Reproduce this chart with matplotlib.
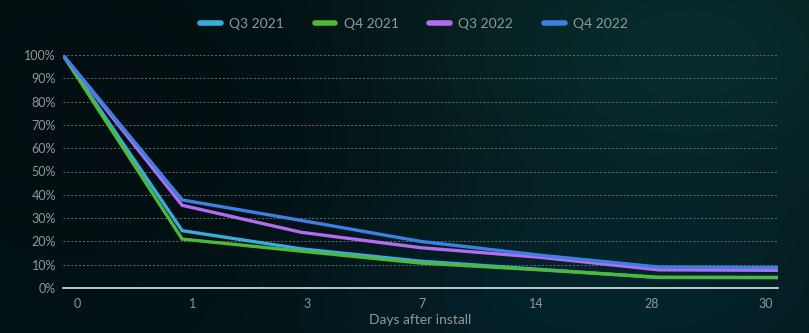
import numpy as np
import matplotlib
matplotlib.use("Agg")
import matplotlib.pyplot as plt

# retention by day after install (percent)
days = ["0", "1", "3", "7", "14", "28", "30"]
q3_2021 = [100, 24.6, 16.8, 11.5, 8.0, 4.5, 4.5]
q4_2021 = [100, 21.0, 15.8, 10.7, 7.8, 4.6, 4.5]
q3_2022 = [100, 35.5, 23.9, 17.3, 13.2, 7.8, 7.6]
q4_2022 = [100, 37.8, 29.0, 20.0, 14.1, 9.0, 8.8]

series = [
    ("Q3 2021", q3_2021, "#38acdc"),
    ("Q4 2021", q4_2021, "#4db83a"),
    ("Q3 2022", q3_2022, "#b36cee"),
    ("Q4 2022", q4_2022, "#3b80e2"),
]
text_col = "#8a9a9a"

plt.rcParams["font.family"] = ["Lato", "DejaVu Sans"]

W, H = 809, 333
fig = plt.figure(figsize=(W / 100, H / 100), dpi=100)

# dark teal background, lighter towards the right
bg = fig.add_axes([0, 0, 1, 1], zorder=-10)
yy, xx = np.mgrid[0:1:H * 1j, 0:1:W * 1j]
base = np.array([0.012, 0.08, 0.09])
glow = np.exp(-(((xx - 0.85) / 0.35) ** 2 + ((yy - 0.15) / 0.5) ** 2))
glow2 = np.exp(-(((xx - 0.75) / 0.35) ** 2 + ((yy - 0.9) / 0.35) ** 2))
dark = np.exp(-(((xx - 0.15) / 0.35) ** 2 + ((yy - 0.35) / 0.6) ** 2))
img = (base[None, None, :]
       + glow[..., None] * np.array([0.02, 0.09, 0.08])
       + glow2[..., None] * np.array([0.0, 0.05, 0.07])
       - dark[..., None] * np.array([0.004, 0.025, 0.025]))
bg.imshow(np.clip(img, 0, 1), aspect="auto", extent=[0, 1, 0, 1])
bg.axis("off")

ax = fig.add_axes([63 / W, 1 - 288 / H, (778 - 63) / W, (288 - 55) / H])
ax.patch.set_alpha(0)

x = np.arange(len(days))
handles = []
for name, vals, col in series:
    h, = ax.plot(x, vals, color=col, lw=2.4, solid_joinstyle="miter", label=name)
    handles.append(h)

ax.set_xlim(0, len(days) - 1)
ax.set_ylim(0, 100)

ax.set_yticks(np.arange(0, 101, 10))
ax.set_yticklabels([f"{v}%" for v in range(0, 101, 10)])
for v in range(10, 101, 10):
    ax.axhline(v, color="#587273", lw=0.7, ls=(0, (2, 2)), zorder=0)

# category labels are spread a little inside the plot edges
ax.set_xticks(np.linspace(0.12, 5.9, len(days)))
ax.set_xticklabels(days)
ax.tick_params(length=0, colors=text_col, labelsize=9)
ax.tick_params(axis="y", pad=5)
ax.tick_params(axis="x", pad=7)

for s in ["top", "right", "left"]:
    ax.spines[s].set_visible(False)
ax.spines["bottom"].set_color("#dce6e6")
ax.spines["bottom"].set_linewidth(1.2)

ax.set_xlabel("Days after install", color=text_col, fontsize=10, labelpad=3)

leg = fig.legend(handles=handles, loc="center", bbox_to_anchor=(414 / W, 1 - 24 / H),
                 ncol=4, frameon=False, fontsize=10, handlelength=1.5,
                 columnspacing=2.2, handletextpad=0.6)
for t in leg.get_texts():
    t.set_color(text_col)
for lh in leg.get_lines():
    lh.set_linewidth(4)
    lh.set_solid_capstyle("round")

fig.savefig("out.png", dpi=100)
